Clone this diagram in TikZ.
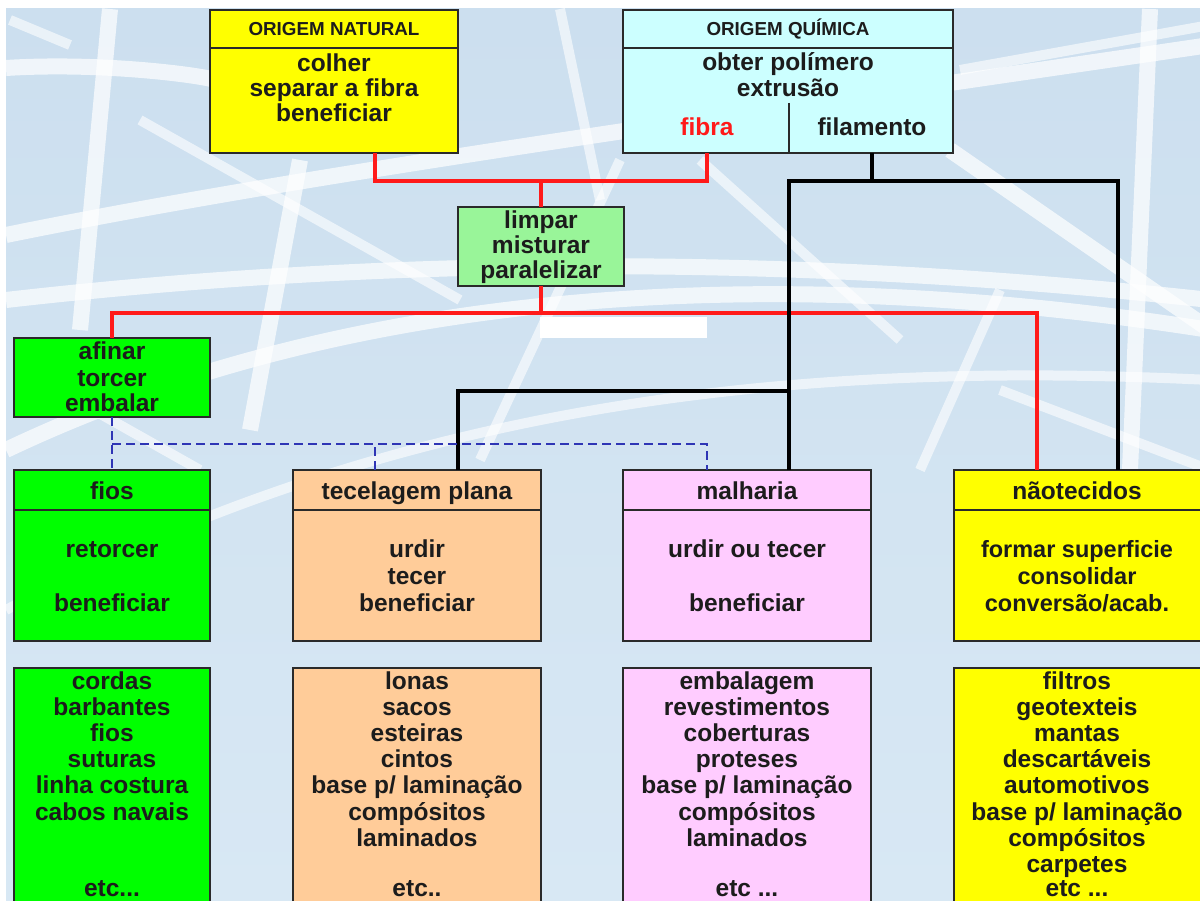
\documentclass[tikz,border=0pt]{standalone}
\usepackage{fontspec}
\setmainfont{Liberation Sans}
\definecolor{bgblue}{HTML}{CCDFEF}
\definecolor{bglow}{HTML}{D8E8F4}
\definecolor{yel}{HTML}{FFFF00}
\definecolor{cyanl}{HTML}{CCFFFF}
\definecolor{grl}{HTML}{99F599}
\definecolor{grb}{HTML}{00FF00}
\definecolor{peach}{HTML}{FFCC99}
\definecolor{pink}{HTML}{FFCCFF}
\definecolor{tx}{HTML}{1C1C1C}
\definecolor{redl}{HTML}{FF1A1A}
\definecolor{bluel}{HTML}{2E35B5}
\definecolor{brd}{HTML}{2A2A2A}
\tikzset{
  box/.style={draw=brd, line width=2pt, rectangle, inner sep=0pt, outer sep=0pt},
  txt/.style={font=\bfseries\fontsize{24.5}{25}\selectfont, text=tx, anchor=base, inner sep=0pt},
  hdr/.style={font=\bfseries\fontsize{18.8}{19}\selectfont, text=tx, anchor=base, inner sep=0pt},
  divl/.style={draw=brd, line width=2pt},
  redline/.style={draw=redl, line width=3.2pt},
  blkline/.style={draw=black, line width=3.4pt},
  blueline/.style={draw=bluel, line width=2.4pt, dash pattern=on 9pt off 5pt},
  fiber/.style={draw=white, line width=16pt, opacity=0.7, line cap=butt},
  fiberthin/.style={draw=white, line width=10pt, opacity=0.6}
}
\begin{document}
\begin{tikzpicture}[x=1pt,y=-1pt]
\useasboundingbox (0,0) rectangle (1200,901);
\begin{scope}
\clip (0,0) rectangle (1200,901);
% background
\fill[white] (0,0) rectangle (1200,901);
\shade[top color=bgblue, bottom color=bglow] (6,9) rectangle (1200,901);
% fibers
\draw[fiber] (6,68) .. controls (100,62) and (200,75) .. (215,80);
\draw[fiber] (110,9) -- (80,330);
\draw[fiberthin] (10,20) -- (70,45);
\draw[fiber] (6,235) .. controls (300,175) and (700,120) .. (1210,45);
\draw[fiber] (6,300) .. controls (400,255) and (800,255) .. (1210,300);
\draw[fiberthin] (140,120) -- (460,300);
\draw[fiber] (300,160) -- (250,430);
\draw[fiberthin] (620,160) -- (480,460);
\draw[fiberthin] (700,160) -- (900,340);
\draw[fiber] (950,150) -- (1210,330);
\draw[fiberthin] (1000,290) -- (920,470);
\draw[fiber] (1150,9) -- (1130,470);
\draw[fiberthin] (960,70) -- (1210,25);
\draw[fiber] (6,450) .. controls (300,310) and (700,250) .. (1210,330);
\draw[fiberthin] (6,610) .. controls (400,400) and (800,360) .. (1210,380);
\draw[fiberthin] (560,9) -- (600,200);
\draw[fiberthin] (40,380) -- (200,470);
\draw[fiberthin] (1000,390) -- (1210,470);
% white bar
\fill[white] (540,317) rectangle (707,338);

% ---------- boxes ----------
\node[box, fill=yel, minimum width=248pt, minimum height=143pt] (on) at (334,81.5) {};
\draw[divl] (210,48) -- (458,48);
\node[box, fill=cyanl, minimum width=330pt, minimum height=143pt] (oq) at (788,81.5) {};
\draw[divl] (623,48) -- (953,48);
\draw[divl] (789,103) -- (789,153);
\node[box, fill=grl, minimum width=166pt, minimum height=79pt] (limp) at (541,246.5) {};
\node[box, fill=grb, minimum width=196pt, minimum height=79pt] (afin) at (112,377.5) {};

\node[box, fill=grb, minimum width=196pt, minimum height=171pt] (fios) at (112,555.5) {};
\node[box, fill=peach, minimum width=248pt, minimum height=171pt] (tec) at (417,555.5) {};
\node[box, fill=pink, minimum width=248pt, minimum height=171pt] (malh) at (747,555.5) {};
\node[box, fill=yel, minimum width=252pt, minimum height=171pt] (nao) at (1080,555.5) {};
\draw[divl] (14,510) -- (210,510);
\draw[divl] (293,510) -- (541,510);
\draw[divl] (623,510) -- (871,510);
\draw[divl] (954,510) -- (1206,510);

\node[box, fill=grb, minimum width=196pt, minimum height=240pt] (fiosP) at (112,788) {};
\node[box, fill=peach, minimum width=248pt, minimum height=240pt] (tecP) at (417,788) {};
\node[box, fill=pink, minimum width=248pt, minimum height=240pt] (malhP) at (747,788) {};
\node[box, fill=yel, minimum width=252pt, minimum height=240pt] (naoP) at (1080,788) {};

% ---------- texts ----------
\node[hdr] (onH) at (334,36) {ORIGEM NATURAL};
\node[txt] (on1) at (334,72) {colher};
\node[txt] (on2) at (334,97) {separar a fibra};
\node[txt] (on3) at (334,122) {beneficiar};

\node[hdr] (oqH) at (788,36) {ORIGEM QUÍMICA};
\node[txt] (oq1) at (788,71) {obter polímero};
\node[txt] (oq2) at (788,97) {extrusão};
\node[txt, text=redl] (fibra) at (707,136) {fibra};
\node[txt] (filam) at (872,136) {filamento};

\node[txt] (li1) at (541,229) {limpar};
\node[txt] (li2) at (541,254) {misturar};
\node[txt] (li3) at (541,279) {paralelizar};

\node[txt] (af1) at (112,360) {afinar};
\node[txt] (af2) at (112,386) {torcer};
\node[txt] (af3) at (112,411) {embalar};

\node[txt] (fiosH) at (112,499) {fios};
\node[txt] (tecH) at (417,499) {tecelagem plana};
\node[txt] (malhH) at (747,499) {malharia};
\node[txt] (naoH) at (1077,499) {nãotecidos};

\node[txt] (fios1) at (112,557) {retorcer};
\node[txt] (fios3) at (112,611) {beneficiar};
\node[txt] (tec1) at (417,557) {urdir};
\node[txt] (tec2) at (417,584) {tecer};
\node[txt] (tec3) at (417,611) {beneficiar};
\node[txt] (malh1) at (747,557) {urdir ou tecer};
\node[txt] (malh3) at (747,611) {beneficiar};
\node[txt, font=\bfseries\fontsize{23.5}{24}\selectfont] (nao1) at (1077,557) {formar superficie};
\node[txt, font=\bfseries\fontsize{23.5}{24}\selectfont] (nao2) at (1077,584) {consolidar};
\node[txt, font=\bfseries\fontsize{23.5}{24}\selectfont] (nao3) at (1077,611) {conversão/acab.};

\foreach \t [count=\n] in {cordas,barbantes,fios,suturas,linha costura,cabos navais}
  \node[txt] (fp-\n) at (112,{689+26.2*(\n-1)}) {\t};
\node[txt] (fp-9) at (112,896) {etc...};
\foreach \t [count=\n] in {lonas,sacos,esteiras,cintos,base p/ laminação,compósitos,laminados}
  \node[txt] (tp-\n) at (417,{689+26.2*(\n-1)}) {\t};
\node[txt] (tp-9) at (417,896) {etc..};
\foreach \t [count=\n] in {embalagem,revestimentos,coberturas,proteses,base p/ laminação,compósitos,laminados}
  \node[txt] (mp-\n) at (747,{689+26.2*(\n-1)}) {\t};
\node[txt] (mp-9) at (747,896) {etc ...};
\foreach \t [count=\n] in {filtros,geotexteis,mantas,descartáveis,automotivos,base p/ laminação,compósitos,carpetes}
  \node[txt] (np-\n) at (1077,{689+26.2*(\n-1)}) {\t};
\node[txt] (np-9) at (1077,896) {etc ...};

% ---------- connector coordinates ----------
\coordinate (x375) at (375,0);
\coordinate (x707) at (707,0);
\coordinate (x872) at (872,0);
\coordinate (x789) at (789,0);
\coordinate (x458) at (458,0);
\coordinate (x1037) at (1037,0);
\coordinate (x1118) at (1118,0);
\coordinate (yR1) at (0,181);
\coordinate (yR2) at (0,313);
\coordinate (yK2) at (0,391);
\coordinate (yB) at (0,444);

% red
\draw[redline] (on.south -| x375) -- (x375 |- yR1) -- (x707 |- yR1) -- (oq.south -| x707);
\draw[redline] (limp.north) -- (limp.north |- yR1);
\draw[redline] (limp.south) -- (limp.south |- yR2);
\draw[redline] (afin.north) -- (afin.north |- yR2) -- (x1037 |- yR2) -- (nao.north -| x1037);
% black
\draw[blkline] (oq.south -| x872) -- (x872 |- yR1);
\draw[blkline] (malh.north -| x789) -- (x789 |- yR1) -- (x1118 |- yR1) -- (nao.north -| x1118);
\draw[blkline] (tec.north -| x458) -- (x458 |- yK2) -- (x789 |- yK2);
% blue dashed
\draw[blueline] (afin.south) -- (fios.north);
\draw[blueline] (afin.south |- yB) -- (x707 |- yB) -- (malh.north -| x707);
\draw[blueline] (tec.north -| x375) -- (x375 |- yB);
\end{scope}
\end{tikzpicture}
\end{document}
